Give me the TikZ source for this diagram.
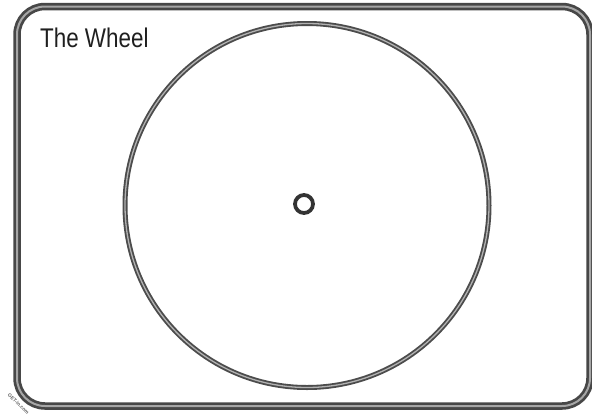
\documentclass[tikz,border=0pt]{standalone}
\usepackage{fontspec}
\setmainfont{Liberation Sans}
\begin{document}
\begin{tikzpicture}[x=1pt,y=-1pt,
  rimdark/.style={draw=black!72,line width=7.5pt},
  rimlight/.style={draw=black!35,line width=2pt},
  wheeldark/.style={draw=black!70,line width=5pt},
  wheellight/.style={draw=black!30,line width=1.3pt},
  hub/.style={draw=black!80,line width=3.8pt},
  titletext/.style={anchor=base west,inner sep=0pt,font=\fontsize{27}{30}\selectfont,xscale=0.83,text=black!88},
  marktext/.style={inner sep=0pt,font=\fontsize{5}{6}\selectfont\bfseries,text=black!60,rotate=-45}]
\useasboundingbox[fill=white] (0,0) rectangle (592,416);
% frame
\draw[rimdark,rounded corners=28pt] (17,6.5) rectangle (590,406);
\draw[rimlight,rounded corners=28pt] (17,6.5) rectangle (590,406);
% wheel
\draw[wheeldark] (307,205.5) circle[radius=182];
\draw[wheellight] (307,205.5) circle[radius=182];
% hub
\draw[hub] (304,204) circle[radius=9];
% texts
\node[titletext] (title) at (40,47) {The Wheel};
\node[marktext] (mark) at (18.5,404) {GET-in.com};
\end{tikzpicture}
\end{document}
